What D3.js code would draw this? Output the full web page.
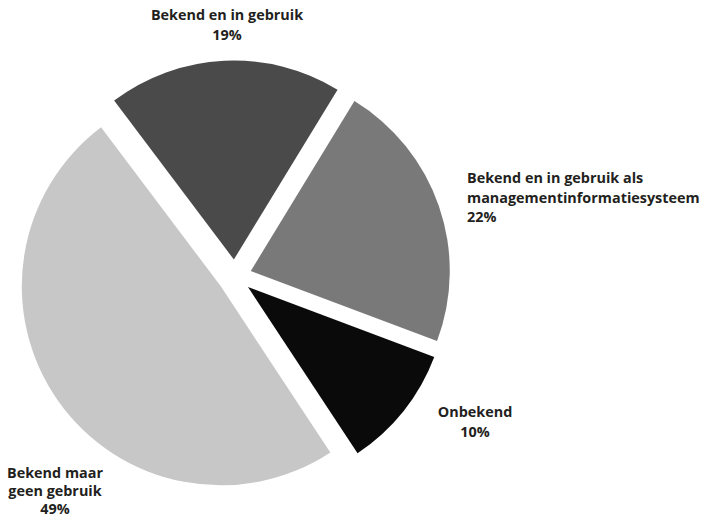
<!DOCTYPE html>
<html>
<head>
<meta charset="utf-8">
<script src="https://cdn.jsdelivr.net/npm/d3@7"></script>
<style>
  html, body { margin: 0; padding: 0; background: #fff; }
  svg { display: block; }
  text { font-family: "Open Sans", Lato, sans-serif; font-weight: 700; fill: #231f20; }
</style>
</head>
<body>
<svg id="chart" width="702" height="520"></svg>
<script>
// ---- data ----
const categories = [
  "Bekend en in gebruik",
  "Bekend en in gebruik als managementinformatiesysteem",
  "Onbekend",
  "Bekend maar geen gebruik"
];
const values = [19, 22, 10, 49];
const percentLabels = ["19%", "22%", "10%", "49%"];
const labelLines = [
  ["Bekend en in gebruik"],
  ["Bekend en in gebruik als", "managementinformatiesysteem"],
  ["Onbekend"],
  ["Bekend maar", "geen gebruik"]
];
const colors = ["#4a4a4a", "#797979", "#0a0a0a", "#c7c7c7"];

// ---- layout ----
const cx = 234.7, cy = 276.5, radius = 199, explode = 17;
const startDeg = -37;
const labelLayout = [
  { x: 227, y: 20, anchor: "middle", lh: 19.5 },
  { x: 467, y: 183, anchor: "start", lh: 19.5 },
  { x: 475, y: 417, anchor: "middle", lh: 19.5 },
  { x: 55, y: 478, anchor: "middle", lh: 18 }
];

const svg = d3.select("#chart");
const data = values.map((v, i) => ({ i, value: v }));
const pie = d3.pie().sort(null).value(d => d.value)
  .startAngle(startDeg * Math.PI / 180)
  .endAngle(startDeg * Math.PI / 180 + 2 * Math.PI);
const arc = d3.arc().innerRadius(0).outerRadius(radius);

const g = svg.append("g").attr("transform", `translate(${cx},${cy})`);
g.selectAll("path").data(pie(data)).join("path")
  .attr("d", arc)
  .attr("fill", d => colors[d.data.i])
  .attr("transform", d => {
    const a = (d.startAngle + d.endAngle) / 2;
    return `translate(${explode * Math.sin(a)},${-explode * Math.cos(a)})`;
  });

labelLayout.forEach((L, i) => {
  const lines = labelLines[i].concat([percentLabels[i]]);
  const t = svg.append("text")
    .attr("x", L.x).attr("y", L.y)
    .attr("text-anchor", L.anchor)
    .style("font-size", "14.4px");
  lines.forEach((ln, k) => {
    t.append("tspan").attr("x", L.x).attr("y", L.y + k * L.lh).text(ln);
  });
});
</script>
</body>
</html>
